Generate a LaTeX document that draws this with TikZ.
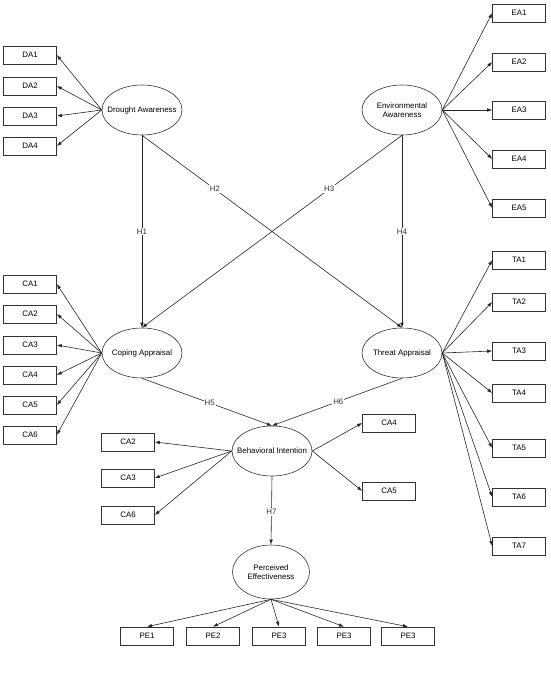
\documentclass[tikz,border=0pt]{standalone}
\usepackage{fontspec}
\setmainfont{Liberation Sans}
\usepackage{tikz}
\usetikzlibrary{positioning, arrows.meta, shapes}

\begin{document}
\begin{tikzpicture}[x=1pt, y=-1pt,
        font=\fontsize{7.9}{9.4}\selectfont,
        line width=0.6pt,
        >={Latex[length=5pt, width=3.6pt]},
        link/.style={->, draw=black!85},
        latent/.style={ellipse, draw=black!80, inner sep=0pt, minimum width=80pt, minimum height=50pt},
        item/.style={rectangle, draw=black!80, inner sep=0pt, minimum width=53pt, minimum height=18pt},
        hyp/.style={fill=white, inner sep=1pt, text=black!80}]
    \useasboundingbox (0, 0) rectangle (550, 687);

    % latent constructs
    \node[latent, label={center:Drought Awareness}] (da) at (142, 110) {};
    \node[latent, label={[align=center]center:Environmental\\Awareness}] (ea) at (402, 110) {};
    \node[latent, label={center:Coping Appraisal}] (ca) at (142, 353) {};
    \node[latent, label={center:Threat Appraisal}] (ta) at (402, 353) {};
    \node[latent, label={center:Behavioral Intention}] (bi) at (272, 451) {};
    \node[latent, minimum width=77pt, minimum height=54pt, label={[align=center]center:Perceived\\Effectiveness}] (pe) at (271, 572) {};

    % indicators
    \node[item] (da1) at (30, 55) {DA1};
    \node[item] (da2) at (30, 86) {DA2};
    \node[item] (da3) at (30, 116) {DA3};
    \node[item] (da4) at (30, 146) {DA4};

    \node[item] (ea1) at (519, 13) {EA1};
    \node[item] (ea2) at (519, 62) {EA2};
    \node[item] (ea3) at (519, 110) {EA3};
    \node[item] (ea4) at (519, 159) {EA4};
    \node[item] (ea5) at (519, 208) {EA5};

    \node[item] (ca1) at (30, 284) {CA1};
    \node[item] (ca2) at (30, 314) {CA2};
    \node[item] (ca3) at (30, 345) {CA3};
    \node[item] (ca4) at (30, 375) {CA4};
    \node[item] (ca5) at (30, 405) {CA5};
    \node[item] (ca6) at (30, 435) {CA6};

    \node[item] (ta1) at (519, 260) {TA1};
    \node[item] (ta2) at (519, 302) {TA2};
    \node[item] (ta3) at (519, 351) {TA3};
    \node[item] (ta4) at (519, 393) {TA4};
    \node[item] (ta5) at (519, 448) {TA5};
    \node[item] (ta6) at (519, 497) {TA6};
    \node[item] (ta7) at (519, 546) {TA7};

    \node[item] (bi1) at (128, 442) {CA2};
    \node[item] (bi2) at (128, 478) {CA3};
    \node[item] (bi3) at (128, 515) {CA6};
    \node[item] (bi4) at (389, 423) {CA4};
    \node[item] (bi5) at (389, 491) {CA5};

    \node[item] (pe1) at (147, 636) {PE1};
    \node[item] (pe2) at (213, 636) {PE2};
    \node[item] (pe3) at (279, 636) {PE3};
    \node[item] (pe4) at (344, 636) {PE3};
    \node[item] (pe5) at (408, 636) {PE3};

    % loadings
    \draw[link] (da.west) -- (da1.east);
    \draw[link] (da.west) -- (da2.east);
    \draw[link] (da.west) -- (da3.east);
    \draw[link] (da.west) -- (da4.east);

    \draw[link] (ea.east) -- (ea1.west);
    \draw[link] (ea.east) -- (ea2.west);
    \draw[link] (ea.east) -- (ea3.west);
    \draw[link] (ea.east) -- (ea4.west);
    \draw[link] (ea.east) -- (ea5.west);

    \draw[link] (ca.west) -- (ca1.east);
    \draw[link] (ca.west) -- (ca2.east);
    \draw[link] (ca.west) -- (ca3.east);
    \draw[link] (ca.west) -- (ca4.east);
    \draw[link] (ca.west) -- (ca5.east);
    \draw[link] (ca.west) -- (ca6.east);

    \draw[link] (ta.east) -- (ta1.west);
    \draw[link] (ta.east) -- (ta2.west);
    \draw[link] (ta.east) -- (ta3.west);
    \draw[link] (ta.east) -- (ta4.west);
    \draw[link] (ta.east) -- (ta5.west);
    \draw[link] (ta.east) -- (ta6.west);
    \draw[link] (ta.east) -- (ta7.west);

    \draw[link] (bi.west) -- (bi1.east);
    \draw[link] (bi.west) -- (bi2.east);
    \draw[link] (bi.west) -- (bi3.east);
    \draw[link] (bi.east) -- (bi4.west);
    \draw[link] (bi.east) -- (bi5.west);

    \draw[link] (pe.south) -- (pe1.north);
    \draw[link] (pe.south) -- (pe2.north);
    \draw[link] (pe.south) -- (pe3.north);
    \draw[link] (pe.south) -- (pe4.north);
    \draw[link] (pe.south) -- (pe5.north);

    % hypotheses
    \draw[link] (da.south) -- node[hyp, pos=0.5] {H1} (ca.north);
    \draw[link] (da.south) -- node[hyp, pos=0.28] {H2} (ta.north);
    \draw[link] (ea.south) -- node[hyp, pos=0.28] {H3} (ca.north);
    \draw[link] (ea.south) -- node[hyp, pos=0.5] {H4} (ta.north);
    \draw[link] (ca.south) -- node[hyp, pos=0.52] {H5} (bi.north);
    \draw[link] (ta.south) -- node[hyp, pos=0.49] {H6} (bi.north);
    \draw[link] (bi.south) -- node[hyp, pos=0.52] {H7} (pe.north);
\end{tikzpicture}
\end{document}
